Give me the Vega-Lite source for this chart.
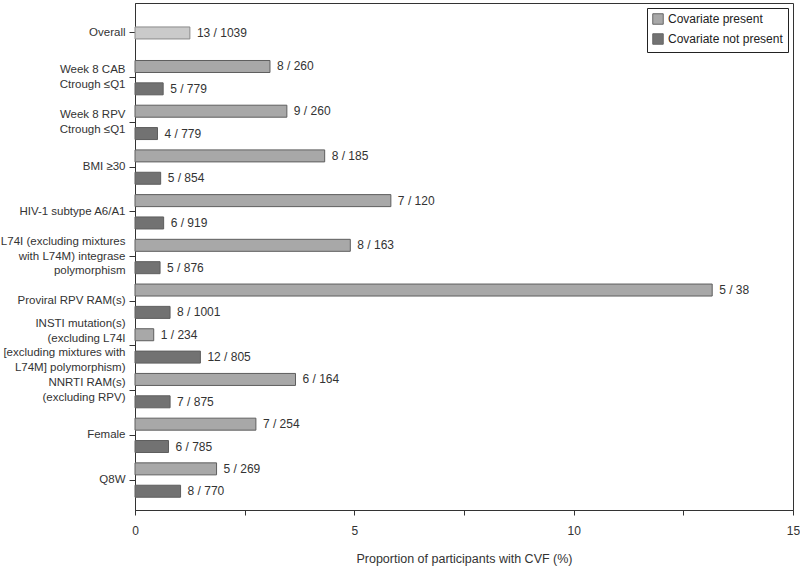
{
  "$schema": "https://vega.github.io/schema/vega-lite/v6.json",
  "width": 658,
  "height": 507,
  "autosize": {"type": "none"},
  "padding": {"left": 135, "top": 3, "right": 7, "bottom": 65},
  "background": "white",
  "config": {
    "font": "Liberation Sans",
    "view": {"stroke": "#333", "strokeWidth": 1},
    "axis": {"grid": false}
  },
  "data": {
    "values": [
      {"group": "Overall", "status": "Overall", "pct": 1.251, "label": "13 / 1039"},
      {"group": "Week 8 CAB|Ctrough ≤Q1", "status": "Covariate present", "pct": 3.077, "label": "8 / 260"},
      {"group": "Week 8 CAB|Ctrough ≤Q1", "status": "Covariate not present", "pct": 0.642, "label": "5 / 779"},
      {"group": "Week 8 RPV|Ctrough ≤Q1", "status": "Covariate present", "pct": 3.462, "label": "9 / 260"},
      {"group": "Week 8 RPV|Ctrough ≤Q1", "status": "Covariate not present", "pct": 0.513, "label": "4 / 779"},
      {"group": "BMI ≥30", "status": "Covariate present", "pct": 4.324, "label": "8 / 185"},
      {"group": "BMI ≥30", "status": "Covariate not present", "pct": 0.585, "label": "5 / 854"},
      {"group": "HIV-1 subtype  A6/A1", "status": "Covariate present", "pct": 5.833, "label": "7 / 120"},
      {"group": "HIV-1 subtype  A6/A1", "status": "Covariate not present", "pct": 0.653, "label": "6 / 919"},
      {"group": "L74I (excluding mixtures|with L74M) integrase|polymorphism", "status": "Covariate present", "pct": 4.908, "label": "8 / 163"},
      {"group": "L74I (excluding mixtures|with L74M) integrase|polymorphism", "status": "Covariate not present", "pct": 0.571, "label": "5 / 876"},
      {"group": "Proviral RPV RAM(s)", "status": "Covariate present", "pct": 13.158, "label": "5 / 38"},
      {"group": "Proviral RPV RAM(s)", "status": "Covariate not present", "pct": 0.799, "label": "8 / 1001"},
      {"group": "INSTI mutation(s)|(excluding L74I|[excluding mixtures with|L74M] polymorphism)", "status": "Covariate present", "pct": 0.427, "label": "1 / 234"},
      {"group": "INSTI mutation(s)|(excluding L74I|[excluding mixtures with|L74M] polymorphism)", "status": "Covariate not present", "pct": 1.491, "label": "12 / 805"},
      {"group": "NNRTI RAM(s)|(excluding RPV)", "status": "Covariate present", "pct": 3.659, "label": "6 / 164"},
      {"group": "NNRTI RAM(s)|(excluding RPV)", "status": "Covariate not present", "pct": 0.8, "label": "7 / 875"},
      {"group": "Female", "status": "Covariate present", "pct": 2.756, "label": "7 / 254"},
      {"group": "Female", "status": "Covariate not present", "pct": 0.764, "label": "6 / 785"},
      {"group": "Q8W", "status": "Covariate present", "pct": 1.859, "label": "5 / 269"},
      {"group": "Q8W", "status": "Covariate not present", "pct": 1.039, "label": "8 / 770"}
    ]
  },
  "encoding": {
    "y": {
      "field": "group",
      "type": "nominal",
      "sort": null,
      "scale": {"paddingInner": 0, "paddingOuter": 0.17},
      "axis": {
        "title": null,
        "labelExpr": "split(datum.label, '|')",
        "labelFontSize": 11.5,
        "labelColor": "#333",
        "labelPadding": 4,
        "labelLineHeight": 14.5,
        "labelLimit": 200,
        "labelOffset": {
          "condition": [
            {"test": "length(split(datum.label, '|')) == 4", "value": -21.75},
            {"test": "length(split(datum.label, '|')) == 3", "value": -14.5},
            {"test": "length(split(datum.label, '|')) == 2", "value": -7.25}
          ],
          "value": 0
        },
        "tickSize": 6,
        "tickColor": "#333",
        "domainColor": "#333"
      }
    },
    "x": {
      "field": "pct",
      "type": "quantitative",
      "scale": {"domain": [0, 15], "nice": false},
      "axis": {
        "title": "Proportion of participants with CVF (%)",
        "titleFontWeight": "normal",
        "titleFontSize": 12.5,
        "titleColor": "#333",
        "titlePadding": 16,
        "values": [0, 2.5, 5, 7.5, 10, 12.5, 15],
        "labelExpr": "datum.value % 5 === 0 ? datum.label : ''",
        "labelFontSize": 12,
        "labelColor": "#333",
        "labelPadding": 10,
        "labelFlush": false,
        "tickSize": 5,
        "tickColor": "#333",
        "domainColor": "#333"
      }
    },
    "color": {
      "field": "status",
      "type": "nominal",
      "scale": {
        "domain": ["Covariate present", "Covariate not present", "Overall"],
        "range": ["#a8a8a8", "#727272", "#cacaca"]
      },
      "legend": {
        "title": null,
        "values": ["Covariate present", "Covariate not present"],
        "orient": "top-right",
        "offset": 5,
        "strokeColor": "#222",
        "fillColor": "white",
        "padding": 5,
        "symbolType": "square",
        "symbolSize": 110,
        "symbolStrokeColor": "#666",
        "symbolStrokeWidth": 1,
        "labelFontSize": 12,
        "labelColor": "#222",
        "rowPadding": 4
      }
    }
  },
  "layer": [
    {
      "transform": [{"filter": "datum.status === 'Overall'"}],
      "mark": {"type": "bar", "height": 12, "stroke": "#8a8a8a", "strokeWidth": 1}
    },
    {
      "transform": [{"filter": "datum.status === 'Overall'"}],
      "mark": {"type": "text", "align": "left", "dx": 7, "fontSize": 12},
      "encoding": {"text": {"field": "label"}, "color": {"value": "#333"}}
    },
    {
      "transform": [{"filter": "datum.status !== 'Overall'"}],
      "mark": {"type": "bar", "height": 12, "stroke": "#5e5e5e", "strokeWidth": 1},
      "encoding": {
        "yOffset": {"field": "status", "type": "nominal", "scale": {"domain": ["Covariate present", "Covariate not present"]}}
      }
    },
    {
      "transform": [{"filter": "datum.status !== 'Overall'"}],
      "mark": {"type": "text", "align": "left", "dx": 7, "fontSize": 12},
      "encoding": {
        "text": {"field": "label"},
        "color": {"value": "#333"},
        "yOffset": {"field": "status", "type": "nominal", "scale": {"domain": ["Covariate present", "Covariate not present"]}}
      }
    }
  ]
}
